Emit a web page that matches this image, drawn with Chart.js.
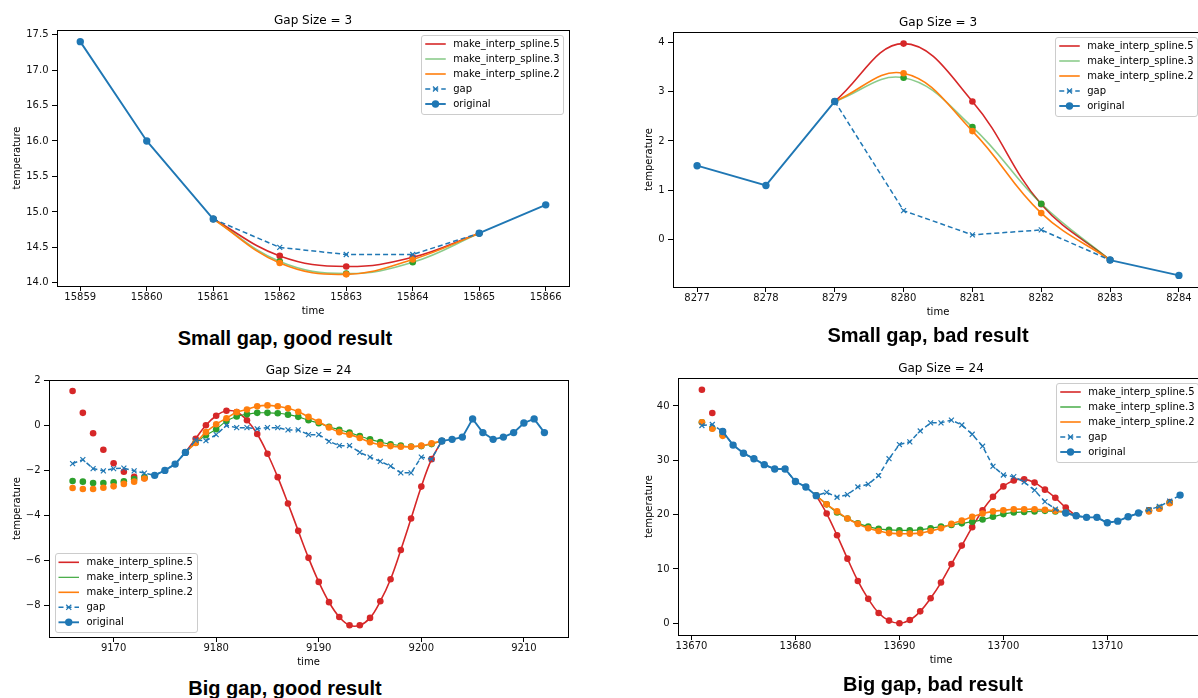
<!DOCTYPE html>
<html><head><meta charset="utf-8">
<script src="https://cdn.jsdelivr.net/npm/chart.js@4"></script>
<style>
html,body{margin:0;padding:0;background:#fff;}
body{width:1198px;height:698px;overflow:hidden;position:relative;}
canvas{position:absolute;}
.cap{position:absolute;font-family:"Liberation Sans",Arial,sans-serif;font-weight:bold;font-size:20px;color:#000;white-space:nowrap;transform:translate(-50%,-50%);line-height:1;}
</style></head><body>
<canvas id="c0" width="574" height="326" style="left:1px;top:0px"></canvas>
<canvas id="c1" width="592" height="325" style="left:617px;top:2px"></canvas>
<canvas id="c2" width="581" height="327" style="left:-7px;top:350px"></canvas>
<canvas id="c3" width="588" height="327" style="left:622px;top:348px"></canvas>
<div class="cap" id="cap0" style="left:285px;top:338px"></div>
<div class="cap" id="cap1" style="left:928px;top:335px"></div>
<div class="cap" id="cap2" style="left:285px;top:688px"></div>
<div class="cap" id="cap3" style="left:933px;top:684px"></div>
<script>
// ---------------- DATA ----------------
const captions = ['Small gap, good result','Small gap, bad result','Big gap, good result','Big gap, bad result'];
const titles = ['Gap Size = 3','Gap Size = 3','Gap Size = 24','Gap Size = 24'];

// Panel 1 (top-left)
const tlTime     = [15859,15860,15861,15862,15863,15864,15865,15866];
const tlOriginal = [17.4,16.0,14.9,null,null,null,14.7,15.1];
const tlGap      = [null,null,14.9,14.5,14.4,14.4,14.7,null];
const tlSpline5  = [null,null,14.9,14.38,14.23,14.36,14.7,null];
const tlSpline3  = [null,null,14.9,14.30,14.13,14.29,14.7,null];
const tlSpline2  = [null,null,14.9,14.28,14.12,14.33,14.7,null];
const tlXTicks   = [15859,15860,15861,15862,15863,15864,15865,15866];
const tlYTicks   = [14.0,14.5,15.0,15.5,16.0,16.5,17.0,17.5];

// Panel 2 (top-right)
const trTime     = [8277,8278,8279,8280,8281,8282,8283,8284];
const trOriginal = [1.5,1.1,2.8,null,null,null,-0.41,-0.72];
const trGap      = [null,null,2.8,0.59,0.1,0.2,-0.41,null];
const trSpline5  = [null,null,2.8,3.97,2.8,0.72,-0.41,null];
const trSpline3  = [null,null,2.8,3.28,2.28,0.73,-0.41,null];
const trSpline2  = [null,null,2.8,3.37,2.2,0.54,-0.41,null];
const trXTicks   = [8277,8278,8279,8280,8281,8282,8283,8284];
const trYTicks   = [0,1,2,3,4];

// Panel 3 (bottom-left)
const blTime = [9166,9167,9168,9169,9170,9171,9172,9173,9174,9175,9176,9177,9178,9179,9180,9181,9182,9183,9184,9185,9186,9187,9188,9189,9190,9191,9192,9193,9194,9195,9196,9197,9198,9199,9200,9201,9202,9203,9204,9205,9206,9207,9208,9209,9210,9211,9212];
const blOriginal = [null,null,null,null,null,null,null,null,-2.2,-1.98,-1.7,-1.18,
  null,null,null,null,null,null,null,null,null,null,null,null,null,null,null,null,null,null,null,null,null,null,null,null,
  -0.67,-0.6,-0.5,0.31,-0.3,-0.6,-0.5,-0.3,0.13,0.31,-0.3];
const blGap = [-1.68,-1.5,-1.9,-2.0,-1.9,-1.88,-2.0,-2.1,-2.2,-1.98,-1.7,-1.18,
  -0.64,-0.66,-0.39,0.02,-0.08,-0.08,-0.13,-0.08,-0.08,-0.18,-0.18,-0.39,-0.39,-0.69,-0.88,-0.88,-1.18,-1.39,-1.58,-1.79,-2.09,-2.09,-1.39,-1.48,-0.67,
  null,null,null,null,null,null,null,null,null,null];
const blSpline5 = [null,null,null,null,null,null,null,null,null,null,null,
  -1.18,-0.57,0.03,0.45,0.67,0.62,0.25,-0.36,-1.24,-2.28,-3.45,-4.67,-5.87,-6.94,-7.84,-8.5,-8.87,-8.87,-8.54,-7.8,-6.82,-5.52,-4.12,-2.7,-1.48,-0.67,
  null,null,null,null,null,null,null,null,null,null];
const blSpline3 = [null,null,null,null,null,null,null,null,null,null,null,
  -1.18,-0.75,-0.42,-0.15,0.22,0.42,0.52,0.58,0.58,0.56,0.5,0.4,0.25,0.12,-0.04,-0.17,-0.3,-0.45,-0.6,-0.72,-0.82,-0.88,-0.92,-0.9,-0.81,-0.67,
  null,null,null,null,null,null,null,null,null,null];
const blSpline2 = [null,null,null,null,null,null,null,null,null,null,null,
  -1.18,-0.76,-0.28,0.07,0.34,0.61,0.73,0.87,0.91,0.87,0.78,0.63,0.4,0.18,-0.07,-0.28,-0.39,-0.54,-0.73,-0.84,-0.9,-0.93,-0.93,-0.88,-0.78,-0.67,
  null,null,null,null,null,null,null,null,null,null];
const blExtraTime = [9166,9167,9168,9169,9170,9171,9172,9173];
const blExtra5 = [1.55,0.58,-0.33,-1.06,-1.66,-2.04,-2.27,-2.33];
const blExtra3 = [-2.45,-2.48,-2.54,-2.54,-2.51,-2.46,-2.37,-2.28];
const blExtra2 = [-2.76,-2.81,-2.81,-2.75,-2.69,-2.58,-2.48,-2.34];
const blXTicks = [9170,9180,9190,9200,9210];
const blYTicks = [-8,-6,-4,-2,0,2];

// Panel 4 (bottom-right)
const brTime = [13671,13672,13673,13674,13675,13676,13677,13678,13679,13680,13681,13682,13683,13684,13685,13686,13687,13688,13689,13690,13691,13692,13693,13694,13695,13696,13697,13698,13699,13700,13701,13702,13703,13704,13705,13706,13707,13708,13709,13710,13711,13712,13713,13714,13715,13716,13717];
const brOriginal = [null,null,35.3,32.8,31.3,30.3,29.2,28.4,28.4,26.1,25.1,23.5,
  null,null,null,null,null,null,null,null,null,null,null,null,null,null,null,null,null,null,null,null,null,null,null,
  20.3,19.8,19.5,19.5,18.5,18.8,19.6,20.3,null,null,null,23.6];
const brGap = [36.4,36.6,35.3,32.8,31.3,30.3,29.2,28.4,28.4,26.1,25.1,23.5,
  24.1,23.2,23.7,25.1,25.6,27.2,30.3,32.9,33.4,35.4,36.9,36.9,37.4,36.5,34.8,32.6,28.9,27.3,27.0,26.0,24.5,22.4,21.0,
  20.3,19.8,19.5,19.5,18.5,18.8,19.6,20.3,20.9,21.5,22.5,23.6];
const brSpline5 = [null,null,null,null,null,null,null,null,null,null,null,
  23.5,20.2,16.2,11.9,7.8,4.5,1.9,0.5,0.0,0.6,2.2,4.6,7.5,10.9,14.3,17.7,20.8,23.3,25.2,26.3,26.5,25.9,24.6,23.1,21.3,19.8,
  null,null,null,null,null,null,null,null,null,null];
const brSpline3 = [null,null,null,null,null,null,null,null,null,null,null,
  23.5,21.9,20.4,19.3,18.4,17.8,17.4,17.2,17.1,17.1,17.2,17.5,17.8,18.1,18.4,18.7,19.1,19.6,20.1,20.4,20.5,20.6,20.7,20.6,20.4,19.8,
  null,null,null,null,null,null,null,null,null,null];
const brSpline2 = [null,null,null,null,null,null,null,null,null,null,null,
  23.5,21.9,20.6,19.3,18.3,17.5,17.0,16.6,16.5,16.5,16.6,17.0,17.5,18.3,18.9,19.6,20.2,20.6,20.8,21.0,21.0,21.0,20.9,20.7,20.4,19.8,
  null,null,null,null,null,null,null,null,null,null];
const brExtraTime = [13671,13672,13673,13714,13715,13716];
const brExtra5 = [43.0,38.7,35.3,20.8,21.2,22.3];
const brExtra3 = [37.0,35.9,34.6,20.7,21.2,22.2];
const brExtra2 = [37.0,35.8,34.5,20.6,21.1,22.1];
const brXTicks = [13670,13680,13690,13700,13710];
const brYTicks = [0,10,20,30,40];

// ---------------- STYLE ----------------
const COL = {blue:'#1f77b4', orange:'#ff7f0e', green:'#2ca02c', red:'#d62728'};
Chart.defaults.font.family = '"DejaVu Sans", sans-serif';
Chart.defaults.font.size = 10;
Chart.defaults.color = '#000';

function pts(xs, ys){ return xs.map((x,i)=>({x:x, y:ys[i]})); }

const framePlugin = {
  id:'mplFrame',
  afterDatasetsDraw(chart){
    const ctx = chart.ctx, a = chart.chartArea;
    ctx.save();
    ctx.strokeStyle = '#000'; ctx.lineWidth = 1;
    ctx.strokeRect(Math.round(a.left)+0.5, Math.round(a.top)+0.5, Math.round(a.right-a.left), Math.round(a.bottom-a.top));
    ctx.restore();
  }
};

const legendPlugin = {
  id:'mplLegend',
  afterDraw(chart, args, opts){
    const ctx = chart.ctx, ca = chart.chartArea;
    const items = chart.data.datasets.filter(d=>d.legendRank!==undefined).sort((a,b)=>a.legendRank-b.legendRank);
    ctx.save();
    ctx.font = '10px "DejaVu Sans"';
    const tw = Math.max(...items.map(d=>ctx.measureText(d.label).width));
    const rowH = 15;
    const w = 32 + tw + 4, h = 9 + (items.length-1)*rowH + 9.7;
    const x0 = opts.loc==='lower left' ? ca.left+5.5 : ca.right-5.5-w;
    const y0 = opts.loc==='lower left' ? ca.bottom-5-h : ca.top+5;
    ctx.beginPath();
    if (ctx.roundRect) ctx.roundRect(Math.round(x0)+0.5, Math.round(y0)+0.5, Math.round(w), Math.round(h), 2.5);
    else ctx.rect(Math.round(x0)+0.5, Math.round(y0)+0.5, Math.round(w), Math.round(h));
    ctx.fillStyle = 'rgba(255,255,255,0.8)'; ctx.fill();
    ctx.strokeStyle = '#cccccc'; ctx.lineWidth = 1; ctx.stroke();
    items.forEach((d,i)=>{
      const cy = y0 + 9 + i*rowH, xa = x0 + 4, xb = x0 + 24.5, xm = (xa+xb)/2;
      ctx.beginPath(); ctx.setLineDash(d.borderDash || []);
      ctx.strokeStyle = d.borderColor; ctx.lineWidth = d.borderWidth;
      ctx.moveTo(xa, cy); ctx.lineTo(xb, cy); ctx.stroke(); ctx.setLineDash([]);
      if (d.legendMarker === 'circle') {
        ctx.beginPath(); ctx.arc(xm, cy, d.pointRadius, 0, 2*Math.PI);
        ctx.fillStyle = d.pointBackgroundColor; ctx.fill();
      } else if (d.legendMarker === 'x') {
        const r = d.pointRadius*0.72;
        ctx.beginPath(); ctx.moveTo(xm-r, cy-r); ctx.lineTo(xm+r, cy+r); ctx.moveTo(xm-r, cy+r); ctx.lineTo(xm+r, cy-r);
        ctx.lineWidth = d.pointBorderWidth; ctx.strokeStyle = d.pointBorderColor; ctx.stroke();
      }
      ctx.fillStyle = '#000'; ctx.textBaseline = 'middle'; ctx.textAlign = 'left';
      ctx.fillText(d.label, x0 + 32, cy);
    });
    ctx.restore();
  }
};

function buildDatasets(p){
  const ds = [];
  ds.push({label:'original', data:pts(p.time,p.original), borderColor:COL.blue, backgroundColor:COL.blue,
    pointBackgroundColor:COL.blue, pointBorderColor:COL.blue, borderWidth:1.9, pointRadius:3.7, pointBorderWidth:0,
    pointStyle:'circle', tension:0, order:0, legendRank:4, legendMarker:'circle'});
  ds.push({label:'gap', data:pts(p.time,p.gap), borderColor:COL.blue, backgroundColor:COL.blue,
    pointBackgroundColor:COL.blue, pointBorderColor:COL.blue, borderWidth:1.5, borderDash:[5,3], pointRadius:3.5,
    pointBorderWidth:1.2, pointStyle:'crossRot', tension:0, order:1, legendRank:3, legendMarker:'x'});
  const spl = [
    {label:'make_interp_spline.2', v:p.s2, e:p.e2, c:COL.orange, lc:COL.orange, lw:1.6, order:2, rank:2},
    {label:'make_interp_spline.3', v:p.s3, e:p.e3, c:COL.green, lc:p.greenLine, lw:p.greenLw, order:3, rank:1},
    {label:'make_interp_spline.5', v:p.s5, e:p.e5, c:COL.red, lc:COL.red, lw:1.6, order:4, rank:0}
  ];
  spl.forEach(s=>{
    ds.push({label:s.label, data:pts(p.time,s.v), borderColor:s.lc, backgroundColor:s.c,
      pointBackgroundColor:s.c, pointBorderColor:s.c, borderWidth:s.lw, pointRadius:3.3, pointBorderWidth:0,
      pointStyle:'circle', tension:0.4, order:s.order, legendRank:s.rank, legendMarker:'none'});
    if (p.extraTime) {
      ds.push({label:s.label+' (extrapolated)', data:pts(p.extraTime,s.e), showLine:false, borderColor:s.c, backgroundColor:s.c,
        pointBackgroundColor:s.c, pointBorderColor:s.c, pointRadius:3.3, pointBorderWidth:0, pointStyle:'circle', order:s.order});
    }
  });
  return ds;
}

function fmt(v, dec){ const s = dec ? v.toFixed(dec) : String(Math.round(v)); return s.replace('-', '\u2212'); }

function makeChart(id, cfg){
  return new Chart(document.getElementById(id), {
    type:'line',
    data:{datasets:cfg.datasets},
    options:{
      responsive:false, animation:false, devicePixelRatio:1,
      layout:{padding:{left:0, right:6, top:0, bottom:0}},
      events:[],
      plugins:{
        legend:{display:false}, tooltip:{enabled:false},
        title:{display:true, text:cfg.title, fullSize:false, color:'#000', font:{size:12, weight:'normal'}, padding:{top:13.8, bottom:1.8}},
        mplLegend:{loc:cfg.legendLoc}
      },
      scales:{
        x:{type:'linear', min:cfg.xMin, max:cfg.xMax,
          afterFit:s=>{ s.height = 40; },
          afterBuildTicks:s=>{ s.ticks = cfg.xTicks.map(v=>({value:v})); },
          ticks:{callback:v=>String(v), maxRotation:0, autoSkip:false, padding:0.5, color:'#111', font:{size:10}},
          grid:{display:true, drawOnChartArea:false, drawTicks:true, tickLength:5, color:'#000', lineWidth:1},
          border:{display:false},
          title:{display:true, text:'time', color:'#000', font:{size:10}, padding:{top:0, bottom:8.5}}},
        y:{type:'linear', min:cfg.yMin, max:cfg.yMax,
          afterFit:s=>{ s.width = 56; },
          afterBuildTicks:s=>{ s.ticks = cfg.yTicks.map(v=>({value:v})); },
          ticks:{callback:v=>fmt(v, cfg.yDec), autoSkip:false, padding:3.5, color:'#111', font:{size:10}},
          grid:{display:true, drawOnChartArea:false, drawTicks:true, tickLength:5, color:'#000', lineWidth:1},
          border:{display:false},
          title:{display:true, text:'temperature', color:'#000', font:{size:10}, padding:{top:cfg.yTitlePad, bottom:0}}}
      }
    },
    plugins:[framePlugin, legendPlugin]
  });
}

makeChart('c0', {title:titles[0], legendLoc:'upper right', xMin:15858.65, xMax:15866.35, yMin:13.956, yMax:17.564,
  xTicks:tlXTicks, yTicks:tlYTicks, yDec:1, yTitlePad:10.2,
  datasets:buildDatasets({time:tlTime, original:tlOriginal, gap:tlGap, s5:tlSpline5, s3:tlSpline3, s2:tlSpline2,
    greenLine:'rgba(44,160,44,0.55)', greenLw:1.6})});
makeChart('c1', {title:titles[1], legendLoc:'upper right', xMin:8276.65, xMax:8284.35, yMin:-0.955, yMax:4.205,
  xTicks:trXTicks, yTicks:trYTicks, yDec:0, yTitlePad:26.8,
  datasets:buildDatasets({time:trTime, original:trOriginal, gap:trGap, s5:trSpline5, s3:trSpline3, s2:trSpline2,
    greenLine:'rgba(44,160,44,0.55)', greenLw:1.6})});
makeChart('c2', {title:titles[2], legendLoc:'lower left', xMin:9163.7, xMax:9214.3, yMin:-9.39, yMax:2.04,
  xTicks:blXTicks, yTicks:blYTicks, yDec:0, yTitlePad:18.2,
  datasets:buildDatasets({time:blTime, original:blOriginal, gap:blGap, s5:blSpline5, s3:blSpline3, s2:blSpline2,
    extraTime:blExtraTime, e5:blExtra5, e3:blExtra3, e2:blExtra2, greenLine:COL.green, greenLw:1.1})});
makeChart('c3', {title:titles[3], legendLoc:'upper right', xMin:13668.7, xMax:13719.3, yMin:-2.15, yMax:45.15,
  xTicks:brXTicks, yTicks:brYTicks, yDec:0, yTitlePad:21.8,
  datasets:buildDatasets({time:brTime, original:brOriginal, gap:brGap, s5:brSpline5, s3:brSpline3, s2:brSpline2,
    extraTime:brExtraTime, e5:brExtra5, e3:brExtra3, e2:brExtra2, greenLine:COL.green, greenLw:1.3})});

captions.forEach((t,i)=>{ document.getElementById('cap'+i).textContent = t; });
</script>
</body></html>
